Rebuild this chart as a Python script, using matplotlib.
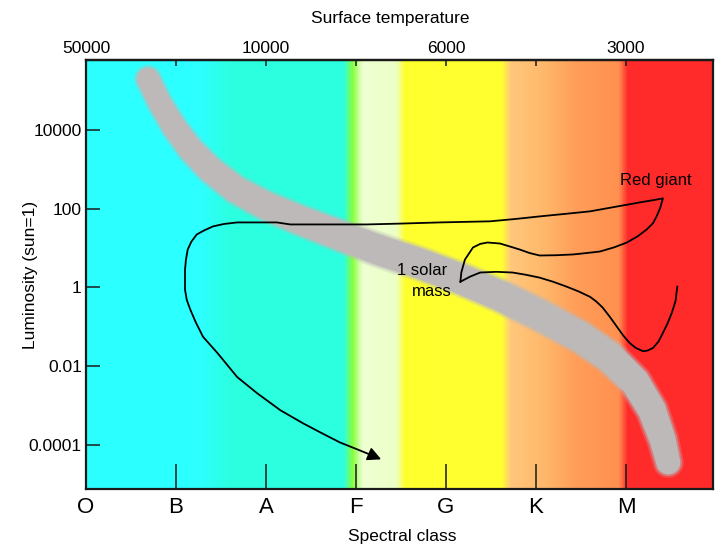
import numpy as np
import matplotlib
matplotlib.use("Agg")
import matplotlib.pyplot as plt
from matplotlib.colors import LinearSegmentedColormap
from matplotlib.patches import Polygon

plt.rcParams['font.family'] = ['Liberation Sans', 'DejaVu Sans']

# ---- data -------------------------------------------------------------
spectral_classes = ['O', 'B', 'A', 'F', 'G', 'K', 'M']
temperature_labels = ['50000', '', '10000', '', '6000', '', '3000']
lum_ticks = [1e-4, 1e-2, 1, 1e2, 1e4]
lum_tick_labels = ['0.0001', '0.01', '1', '100', '10000']

# main-sequence ridge (spectral position, luminosity)
ms_x = [0.69, 0.82, 0.98, 1.16, 1.38, 1.66, 1.99, 2.38, 2.82, 3.27,
        3.71, 4.16, 4.60, 5.04, 5.49, 5.82, 6.10, 6.29, 6.41, 6.47]
ms_lum = [2.0e5, 4.9e4, 1.2e4, 3.3e3, 1.0e3, 313, 122, 51, 21, 8.7,
          4.05, 1.67, 0.62, 0.20, 0.056, 0.017, 0.004, 7.6e-4, 1.3e-4, 3.6e-5]

# pre-main-sequence track of a 1 solar mass star
pre_x = [6.57, 6.55, 6.51, 6.46, 6.41, 6.36, 6.30, 6.24, 6.19, 6.11,
         6.04, 5.97, 5.90, 5.82, 5.74, 5.67, 5.60, 5.47, 5.34, 5.19,
         5.04, 4.89, 4.74, 4.56, 4.38, 4.27, 4.16]
pre_lum = [1.05, 0.45, 0.23, 0.12, 0.070, 0.042, 0.029, 0.025, 0.024, 0.029,
           0.039, 0.060, 0.10, 0.18, 0.31, 0.44, 0.58, 0.80, 1.05, 1.40,
           1.78, 2.1, 2.4, 2.5, 2.4, 1.9, 1.4]

# post-main-sequence track: red giant and descent to white dwarf
post_x = [4.16, 4.17, 4.21, 4.30, 4.38, 4.46, 4.60, 4.71, 4.82, 4.93,
          5.04, 5.22, 5.41, 5.56, 5.71, 5.87, 6.01, 6.13, 6.23, 6.30,
          6.34, 6.38, 6.41, 6.30, 6.16, 5.88, 5.60, 5.32, 5.04, 4.77,
          4.49, 3.93, 3.49, 3.12, 2.27, 2.12, 1.90, 1.68, 1.53, 1.41,
          1.31, 1.23, 1.17, 1.13, 1.11, 1.10, 1.10, 1.12, 1.16, 1.22,
          1.30, 1.46, 1.68, 1.90, 2.16, 2.41, 2.60, 2.82, 3.04, 3.18]
post_lum = [1.4, 2.4, 5.1, 10.4, 12.8, 13.9, 13.1, 11.0, 9.2, 7.5,
            6.5, 6.6, 6.9, 7.5, 8.2, 10.5, 13.9, 20, 29.8, 43,
            64, 105, 184, 165, 146, 112, 86, 74, 64, 55,
            48, 45, 42, 40, 40, 45, 45, 45, 41, 35.6,
            28, 22.2, 14.5, 9.2, 5.0, 2.8, 0.88, 0.48, 0.27, 0.13,
            0.056, 0.0217, 0.0053, 0.00207, 7.6e-4, 3.56e-4, 2.1e-4, 1.16e-4, 7.3e-5, 5.4e-5]
white_dwarf = (3.28, 4.3e-5)

# ---- figure -----------------------------------------------------------
fig = plt.figure(figsize=(7.19, 5.46), dpi=100)
ax = fig.add_axes([86 / 719, 57 / 546, 627 / 719, 429 / 546])
ax.set_yscale('log')
xmax = 627 / 90
ax.set_xlim(0, xmax)
ax.set_ylim(10 ** -5.12, 10 ** 5.78)

# spectral colour background
stops = [
    (0.00, '#2cffff'), (1.25, '#2cffff'), (1.60, '#2bffe0'), (2.86, '#2bffe0'),
    (2.96, '#86ff3c'), (3.07, '#eeffd2'), (3.45, '#ecffc6'), (3.54, '#ffff2e'),
    (4.62, '#ffff30'), (4.72, '#ffc77c'), (5.10, '#ffb76a'), (5.45, '#ff9d58'),
    (5.92, '#ff9050'), (6.02, '#ff2b2b'), (xmax, '#ff2b2b'),
]
cmap = LinearSegmentedColormap.from_list(
    'spectral_bg', [(p / xmax, c) for p, c in stops], N=1024)
gx = np.linspace(0, xmax, 1400)
gy = np.array([10 ** -5.12, 10 ** 5.78])
ax.pcolormesh(gx, gy, np.tile(gx[:-1], (1, 1)), cmap=cmap,
              vmin=0, vmax=xmax, shading='flat', zorder=0)


def band_polygon(xd, yd, hw):
    pts = ax.transData.transform(np.column_stack([xd, yd]))
    d = np.gradient(pts, axis=0)
    t = d / np.linalg.norm(d, axis=1)[:, None]
    n = np.column_stack([-t[:, 1], t[:, 0]])
    left = pts + n * hw[:, None]
    right = pts - n * hw[:, None]
    a1 = np.arctan2(n[-1, 1], n[-1, 0])
    ang1 = np.linspace(a1, a1 - np.pi, 24)
    cap_end = pts[-1] + hw[-1] * np.column_stack([np.cos(ang1), np.sin(ang1)])
    a0 = np.arctan2(n[0, 1], n[0, 0])
    ang0 = np.linspace(a0 + np.pi, a0, 24)
    cap_start = pts[0] + hw[0] * np.column_stack([np.cos(ang0), np.sin(ang0)])
    poly = np.vstack([left, cap_end, right[::-1], cap_start])
    return ax.transData.inverted().transform(poly)


half_width = np.array([11, 11, 11.5, 12, 12.5, 13, 13.5, 14, 14.5, 15,
                       15, 15, 15, 15, 15, 15, 14.5, 14, 13, 12], dtype=float)
band_color = '#bdb9b9'
for extra, alpha in [(3.5, 0.25), (1.7, 0.45), (0, 1.0)]:
    ax.add_patch(Polygon(band_polygon(ms_x, ms_lum, half_width + extra),
                         closed=True, facecolor=band_color, edgecolor='none',
                         alpha=alpha, zorder=1))

# evolutionary tracks
track_style = dict(color='black', lw=1.3, zorder=3, solid_joinstyle='round')
ax.plot(pre_x, pre_lum, **track_style)
ax.plot(post_x, post_lum, **track_style)
ax.annotate('', xy=white_dwarf, xytext=(post_x[-1], post_lum[-1]),
            arrowprops=dict(arrowstyle='-|>', mutation_scale=20, color='black',
                            lw=1.3, shrinkA=0, shrinkB=0), zorder=4)

ax.text(6.33, 530, 'Red giant', fontsize=12, ha='center', va='center', zorder=5)
ax.text(3.74, 2.69, '1 solar', fontsize=12, ha='center', va='center', zorder=5)
ax.text(3.84, 0.78, 'mass', fontsize=12, ha='center', va='center', zorder=5)

# axes styling
for s in ax.spines.values():
    s.set_linewidth(1.6)
    s.set_color('#1a1a1a')
    s.set_zorder(6)

ax.set_xticks(range(len(spectral_classes)))
ax.set_xticklabels(spectral_classes, fontsize=16)
ax.tick_params(axis='x', direction='in', length=18, width=1.1, pad=6,
               color='#1a1a1a')
ax.set_yticks(lum_ticks)
ax.set_yticklabels(lum_tick_labels, fontsize=12.5)
ax.yaxis.set_minor_locator(matplotlib.ticker.NullLocator())
ax.tick_params(axis='y', direction='in', length=10, width=1.1, pad=3,
               color='#1a1a1a')

top = ax.secondary_xaxis('top')
top.set_xticks(range(len(temperature_labels)))
top.set_xticklabels(temperature_labels, fontsize=12.5)
top.tick_params(direction='in', length=4, width=1.1, pad=3, color='#1a1a1a')
top.spines['top'].set_linewidth(1.6)

fig.text(390 / 719, 1 - 18 / 546, 'Surface temperature', fontsize=12.5,
         ha='center', va='center')
fig.text(31 / 719, 1 - 275 / 546, 'Luminosity (sun=1)', fontsize=12.5,
         rotation=90, ha='center', va='center')
fig.text(402 / 719, 1 - 537 / 546, 'Spectral class', fontsize=12.5,
         ha='center', va='center')

fig.savefig('out.png', dpi=100)
